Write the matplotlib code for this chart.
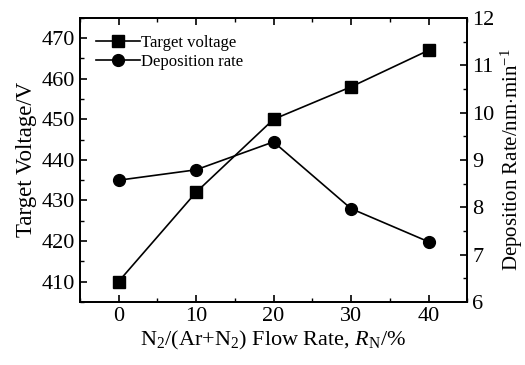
import numpy as np
import matplotlib.pyplot as plt

plt.rcParams['font.family'] = ['Liberation Serif', 'DejaVu Serif']
plt.rcParams['mathtext.fontset'] = 'custom'
plt.rcParams['mathtext.rm'] = 'Liberation Serif'
plt.rcParams['mathtext.it'] = 'Liberation Serif:italic'

flow_rate = [0, 10, 20, 30, 40]
target_voltage = [410, 432, 450, 458, 467]
deposition_rate = [8.57, 8.79, 9.38, 7.97, 7.27]

fig = plt.figure(figsize=(5.25, 3.65), dpi=100)
ax = fig.add_axes([0.152, 0.173, 0.738, 0.778])
ax2 = ax.twinx()

l1, = ax.plot(flow_rate, target_voltage, color='black', lw=1.2, marker='s',
              markersize=8.5, label='Target voltage')
l2, = ax2.plot(flow_rate, deposition_rate, color='black', lw=1.2, marker='o',
               markersize=8.5, label='Deposition rate')

ax.set_xlim(-5, 45)
ax.set_ylim(405, 475)
ax2.set_ylim(6, 12)
ax.set_xticks([0, 10, 20, 30, 40])
ax.set_xticks(np.arange(-5, 46, 5), minor=True)
ax.set_yticks(np.arange(410, 471, 10))
ax.set_yticks(np.arange(405, 476, 5), minor=True)
ax2.set_yticks(np.arange(6, 13, 1))
ax2.set_yticks(np.arange(6, 12.1, 0.5), minor=True)

ax.tick_params(axis='both', which='both', direction='in', labelsize=16, top=True, right=False)
ax.tick_params(which='major', length=5, width=1.2)
ax.tick_params(which='minor', length=3, width=1.0)
ax2.tick_params(axis='y', which='both', direction='in', labelsize=16)
ax2.tick_params(which='major', length=5, width=1.2)
ax2.tick_params(which='minor', length=3, width=1.0)
for a in (ax, ax2):
    for s in a.spines.values():
        s.set_linewidth(1.3)

ax.set_xlabel(r'N$_2$/(Ar+N$_2$) Flow Rate, $\mathit{R}_{\rm N}$/%', fontsize=16, labelpad=2)
ax.set_ylabel('Target Voltage/V', fontsize=16.5, labelpad=3)
ax2.set_ylabel(r'Deposition Rate/nm$\cdot$min$^{-1}$', fontsize=15, labelpad=3)

ax.legend(handles=[l1, l2], loc='upper left', frameon=False, fontsize=12,
          handlelength=2.6, handletextpad=0.1, borderaxespad=0.6, labelspacing=0.2)

fig.savefig('out.png', dpi=100)
